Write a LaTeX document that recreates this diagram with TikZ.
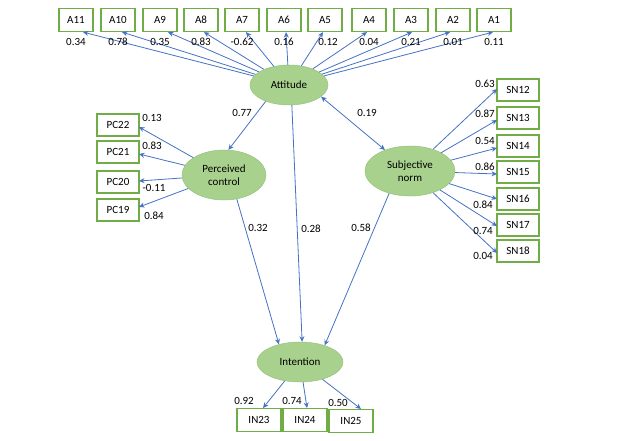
\documentclass[tikz,border=0pt]{standalone}
\usepackage{fontspec}
\setmainfont{Carlito}
\usetikzlibrary{shapes.geometric,arrows.meta}
\definecolor{ellfill}{RGB}{169,209,142}
\definecolor{elldraw}{RGB}{150,195,120}
\definecolor{boxgreen}{RGB}{112,173,71}
\definecolor{arrblue}{RGB}{68,114,196}
\begin{document}
\begin{tikzpicture}[x=1pt,y=-1pt,
  every node/.style={font=\fontsize{11}{13}\selectfont},
  latent/.style={ellipse,fill=ellfill,draw=elldraw,line width=0.5pt,inner sep=0pt,align=center},
  ind/.style={draw=boxgreen,line width=1.2pt,fill=white,inner sep=0pt,minimum height=23pt},
  abox/.style={ind,minimum width=34pt},
  pbox/.style={ind,minimum width=42pt,minimum height=22pt},
  ibox/.style={ind,minimum width=44pt},
  lbl/.style={inner sep=0pt},
  arr/.style={draw=arrblue,line width=0.8pt,-{Stealth[length=5.5pt,width=5pt]}},
  darr/.style={draw=arrblue,line width=0.8pt,{Stealth[length=5.5pt,width=5pt]}-{Stealth[length=5.5pt,width=5pt]}}]
\useasboundingbox (0,0) rectangle (624,441);
% latent variables
\node[latent,minimum width=78pt,minimum height=40pt] (att) at (289,85) {Attitude};
\node[latent,minimum width=84pt,minimum height=50pt] (pc) at (224,175) {Perceived\\control};
\node[latent,minimum width=90pt,minimum height=50pt] (sn) at (410,171) {Subjective\\norm};
\node[latent,minimum width=86pt,minimum height=40pt] (int) at (300,362) {Intention};
% attitude indicators
\node[abox] (A11) at (76,20) {A11};
\node[abox] (A10) at (118,20) {A10};
\node[abox] (A9) at (160,20) {A9};
\node[abox] (A8) at (201,20) {A8};
\node[abox] (A7) at (242,20) {A7};
\node[abox] (A6) at (284,20) {A6};
\node[abox] (A5) at (325,20) {A5};
\node[abox] (A4) at (369,20) {A4};
\node[abox] (A3) at (411,20) {A3};
\node[abox] (A2) at (453,20) {A2};
\node[abox] (A1) at (494,20) {A1};
\coordinate (tA11) at ([xshift=7pt]A11.south);
\coordinate (tA10) at ([xshift=4pt]A10.south);
\coordinate (tA9) at ([xshift=8pt]A9.south);
\coordinate (tA8) at ([xshift=3pt]A8.south);
\coordinate (tA7) at ([xshift=4pt]A7.south);
\coordinate (tA6) at ([xshift=2pt]A6.south);
\coordinate (tA5) at ([xshift=-2pt]A5.south);
\coordinate (tA4) at ([xshift=-2pt]A4.south);
\coordinate (tA3) at ([xshift=1pt]A3.south);
\coordinate (tA2) at ([xshift=-3pt]A2.south);
\coordinate (tA1) at ([xshift=-1pt]A1.south);
\foreach \t in {A11,A10,A9,A8,A7,A6,A5,A4,A3,A2,A1}
  \draw[arr] (att) -- (t\t);
\node[lbl] (lA11) at (76,42) {0.34};
\node[lbl] (lA10) at (118,42) {0.78};
\node[lbl] (lA9) at (160,42) {0.35};
\node[lbl] (lA8) at (201,42) {0.83};
\node[lbl] (lA7) at (242,42) {-0.62};
\node[lbl] (lA6) at (284,42) {0.16};
\node[lbl] (lA5) at (328,42) {0.12};
\node[lbl] (lA4) at (369,42) {0.04};
\node[lbl] (lA3) at (411,42) {0.21};
\node[lbl] (lA2) at (453,42) {0.01};
\node[lbl] (lA1) at (494,42) {0.11};
% perceived control indicators
\node[pbox] (PC22) at (118,125) {PC22};
\node[pbox] (PC21) at (118,152) {PC21};
\node[pbox] (PC20) at (118,182) {PC20};
\node[pbox] (PC19) at (118,210) {PC19};
\coordinate (tPC22) at (139,127);
\coordinate (tPC21) at (139,154);
\coordinate (tPC20) at (139,181);
\coordinate (tPC19) at (139,207);
\foreach \t in {PC22,PC21,PC20,PC19}
  \draw[arr] (pc) -- (t\t);
\node[lbl] (lPC22) at (152,118) {0.13};
\node[lbl] (lPC21) at (152,146) {0.83};
\node[lbl] (lPC20) at (154,188) {-0.11};
\node[lbl] (lPC19) at (154,216) {0.84};
% subjective norm indicators
\node[pbox] (SN12) at (518,90) {SN12};
\node[pbox] (SN13) at (518,118) {SN13};
\node[pbox] (SN14) at (518,146) {SN14};
\node[pbox] (SN15) at (518,172) {SN15};
\node[pbox] (SN16) at (518,199) {SN16};
\node[pbox] (SN17) at (518,225) {SN17};
\node[pbox] (SN18) at (518,251) {SN18};
\coordinate (tSN12) at (497,89);
\coordinate (tSN13) at (497,120);
\coordinate (tSN14) at (497,148);
\coordinate (tSN15) at (497,174);
\coordinate (tSN16) at (497,199);
\coordinate (tSN17) at (497,226);
\coordinate (tSN18) at (497,253);
\foreach \t in {SN12,SN13,SN14,SN15,SN16,SN17,SN18}
  \draw[arr] (sn) -- (t\t);
\node[lbl] (lSN12) at (485,84) {0.63};
\node[lbl] (lSN13) at (485,114) {0.87};
\node[lbl] (lSN14) at (485,141) {0.54};
\node[lbl] (lSN15) at (485,167) {0.86};
\node[lbl] (lSN16) at (483,205) {0.84};
\node[lbl] (lSN17) at (483,231) {0.74};
\node[lbl] (lSN18) at (483,256) {0.04};
% intention indicators
\node[ibox] (IN23) at (259,420) {IN23};
\node[ibox] (IN24) at (305,420) {IN24};
\node[ibox] (IN25) at (351,421) {IN25};
\coordinate (tIN23) at (263,408);
\coordinate (tIN24) at (307,408);
\coordinate (tIN25) at (361,409);
\foreach \t in {IN23,IN24,IN25}
  \draw[arr] (int) -- (t\t);
\node[lbl] (lIN23) at (244,401) {0.92};
\node[lbl] (lIN24) at (292,401) {0.74};
\node[lbl] (lIN25) at (338,403) {0.50};
% structural paths
\draw[arr] (att.215) -- (pc.80);
\draw[arr] (att.278) -- (int.84);
\draw[arr] (pc.298) -- (int.140);
\draw[arr] (sn.227) -- (int.34);
\draw[darr] (att.340) -- (sn.140);
\node[lbl] (l77) at (242,113) {0.77};
\node[lbl] (l28) at (311,229) {0.28};
\node[lbl] (l32) at (258,228) {0.32};
\node[lbl] (l58) at (361,228) {0.58};
\node[lbl] (l19) at (367,113) {0.19};
\end{tikzpicture}
\end{document}
